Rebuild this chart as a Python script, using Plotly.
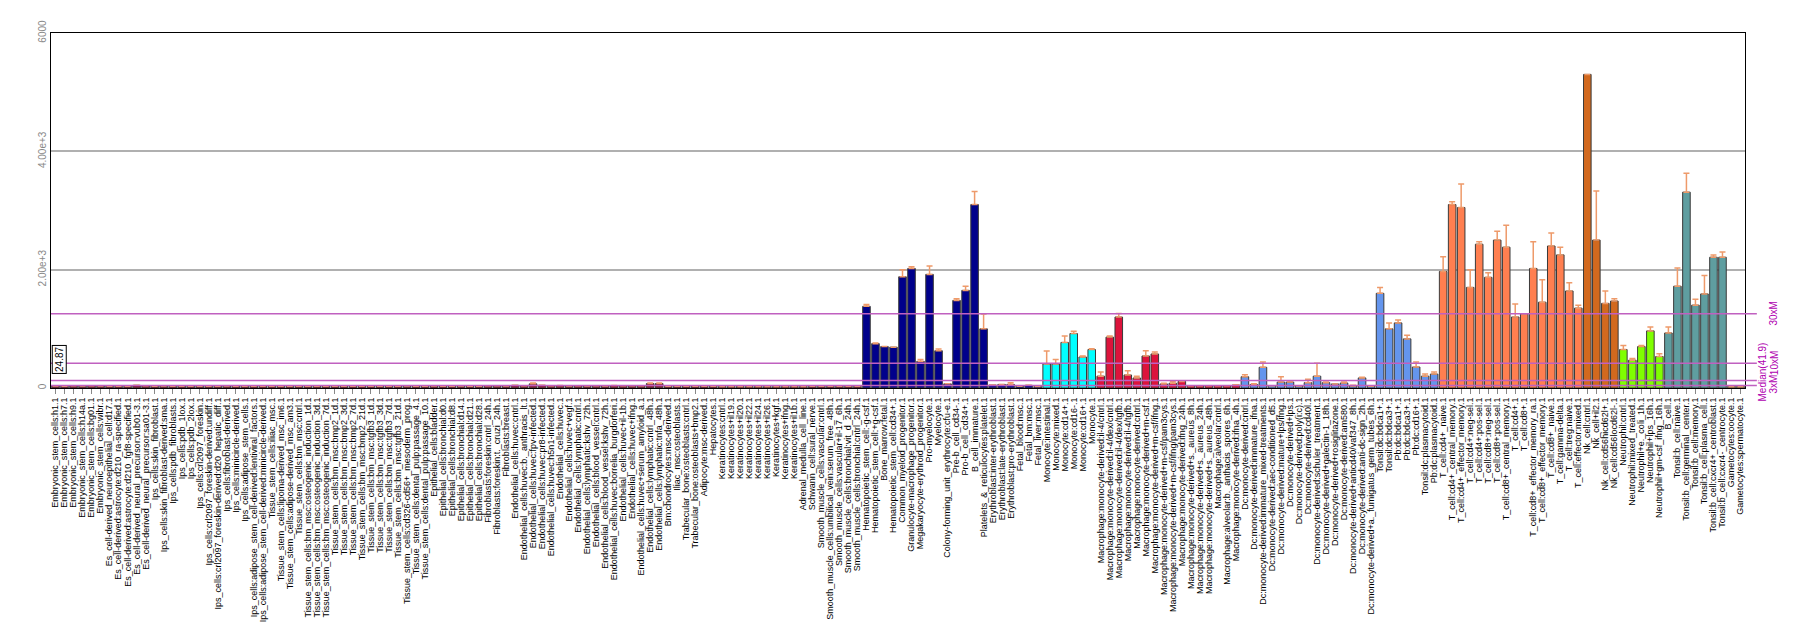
import plotly.graph_objects as go

categories = [
    "Embryonic_stem_cells:h1.1", "Embryonic_stem_cells:h7.1", "Embryonic_stem_cells:h9.1",
    "Embryonic_stem_cells:h14a.1", "Embryonic_stem_cells:bg01.1", "Embryonic_stem_cells:wibr.1",
    "Es_cell-derived_neuroepithelial_cell:d17.1", "Es_cell-derived:astrocyte:d210_ra-specified.1",
    "Es_cell-derived:astrocyte:d210_fgf8-specified.1", "Es_cell-derived_neural_precursor:vub01-3.1",
    "Es_cell-derived_neural_precursor:sa01-3.1", "Ips_cells:skin_fibroblast.1",
    "Ips_cells:skin_fibroblast-derived:sma.1", "Ips_cells:pdb_fibroblasts.1", "Ips_cells:pdb_1lox.1",
    "Ips_cells:pdb_2lox.1", "Ips_cells:crl2097_foreskin.1", "Ips_cells:crl2097_foreskin-derived:undiff.1",
    "Ips_cells:crl2097_foreskin-derived:d20_hepatic_diff.1", "Ips_cells:fibroblast-derived.1",
    "Ips_cells:minicircle-derived.1", "Ips_cells:adipose_stem_cells.1",
    "Ips_cells:adipose_stem_cell-derived:lentiviral_factors.1",
    "Ips_cells:adipose_stem_cell-derived:minicircle-derived.1", "Tissue_stem_cells:iliac_msc.1",
    "Tissue_stem_cells:lipoma-derived_msc_im6.1", "Tissue_stem_cells:adipose-derived_msc_am3.1",
    "Tissue_stem_cells:bm_msc:cntrl.1", "Tissue_stem_cells:bm_msc:osteogenic_induction_1d.1",
    "Tissue_stem_cells:bm_msc:osteogenic_induction_3d.1", "Tissue_stem_cells:bm_msc:osteogenic_induction_7d.1",
    "Tissue_stem_cells:bm_msc:bmp2_1d.1", "Tissue_stem_cells:bm_msc:bmp2_3d.1",
    "Tissue_stem_cells:bm_msc:bmp2_7d.1", "Tissue_stem_cells:bm_msc:bmp2_21d.1",
    "Tissue_stem_cells:bm_msc:tgfb3_1d.1", "Tissue_stem_cells:bm_msc:tgfb3_3d.1",
    "Tissue_stem_cells:bm_msc:tgfb3_7d.1", "Tissue_stem_cells:bm_msc:tgfb3_21d.1",
    "Tissue_stem_cells:cd326-cd56+_mesoderm_prog.1", "Tissue_stem_cells:dental_pulp:passage_4.1",
    "Tissue_stem_cells:dental_pulp:passage_10.1", "Epithelial_cells:bladder.1",
    "Epithelial_cells:bronchial:d0.1", "Epithelial_cells:bronchial:d8.1", "Epithelial_cells:bronchial:d14.1",
    "Epithelial_cells:bronchial:d21.1", "Epithelial_cells:bronchial:d28.1",
    "Fibroblasts:foreskin:cntrl_24h.1", "Fibroblasts:foreskin:t._cruzi_24h.1", "Fibroblasts:breast.1",
    "Endothelial_cells:huvec:cntrl.1", "Endothelial_cells:huvec:b._anthracis_lt.1",
    "Endothelial_cells:huvec:fpv-infected.1", "Endothelial_cells:huvec:pr8-infected.1",
    "Endothelial_cells:huvec:h5n1-infected.1", "Endothelial_cells:huvec.1", "Endothelial_cells:huvec+vegf.1",
    "Endothelial_cells:lymphatic:cntrl.1", "Endothelial_cells:lymphatic:kshv_72h.1",
    "Endothelial_cells:blood_vessel:cntrl.1", "Endothelial_cells:blood_vessel:kshv_72h.1",
    "Endothelial_cells:huvec:borrelia_burgdorferi.1", "Endothelial_cells:huvec+il-1b.1",
    "Endothelial_cells:huvec+ifng.1", "Endothelial_cells:huvec+serum_amyloid_a.1",
    "Endothelial_cells:lymphatic:cntrl_48h.1", "Endothelial_cells:lymphatic:tnfa_48h.1",
    "Bm:chondrocytes:msc-derived.1", "Iliac_msc:osteoblasts.1", "Trabecular_bone:osteoblasts:cntrl.1",
    "Trabecular_bone:osteoblasts+bmp2.1", "Adipocyte:msc-derived.1", "Hepatocytes.1",
    "Keratinocytes:cntrl.1", "Keratinocytes+il19.1", "Keratinocytes+il20.1", "Keratinocytes+il22.1",
    "Keratinocytes+il24.1", "Keratinocytes+il26.1", "Keratinocytes+kgf.1", "Keratinocytes+ifng.1",
    "Keratinocytes+il1b.1", "Adrenal_medulla_cell_line.1", "Schwann_cell:sural_nerve.1",
    "Smooth_muscle_cells:vascular:cntrl.1", "Smooth_muscle_cells:umbilical_vein:serum_free_48h.1",
    "Smooth_muscle_cells:vascular+il-17_6h.1", "Smooth_muscle_cells:bronchial:vit_d_24h.1",
    "Smooth_muscle_cells:bronchial:cntrl_24h.1", "Hematopoietic_stem_cell:-g-csf.1",
    "Hematopoietic_stem_cell:+g-csf.1", "Bone_marrow:fetal.1", "Hematopoietic_stem_cell:cd34+.1",
    "Common_myeloid_progenitor.1", "Granulocyte-macrophage_progenitor.1",
    "Megakaryocyte-erythroid_progenitor.1", "Pro-myelocyte.1", "Myelocyte.1",
    "Colony-forming_unit_erythrocyte:cfu-e.1", "Pre-b_cell_cd34-.1", "Pro-b_cell_cd34+.1",
    "B_cell_immature.1", "Platelets_&_reticulocytes:platelet.1", "Erythroblast:inter-erythroblast.1",
    "Erythroblast:late-erythroblast.1", "Erythroblast:pro-erythroblast.1", "Fetal_blood:msc.1",
    "Fetal_bm:msc.1", "Fetal_liver:msc.1", "Monocyte:intestinal.1", "Monocyte:mixed.1",
    "Monocyte:cd14+.1", "Monocyte:cd16-.1", "Monocyte:cd16+.1", "Monocyte.1",
    "Macrophage:monocyte-derived:il-4/cntrl.1", "Macrophage:monocyte-derived:il-4/dex/cntrl.1",
    "Macrophage:monocyte-derived:il-4/dex/tgfb.1", "Macrophage:monocyte-derived:il-4/tgfb.1",
    "Macrophage:monocyte-derived:cntrl.1", "Macrophage:monocyte-derived+m-csf.1",
    "Macrophage:monocyte-derived+m-csf/ifng.1", "Macrophage:monocyte-derived+m-csf/pam3cys.1",
    "Macrophage:monocyte-derived+m-csf/ifng/pam3cys.1", "Macrophage:monocyte-derived:ifng_24h.1",
    "Macrophage:monocyte-derived+s._aureus_8h.1", "Macrophage:monocyte-derived+s._aureus_24h.1",
    "Macrophage:monocyte-derived+s._aureus_48h.1", "Macrophage:alveolar:cntrl.1",
    "Macrophage:alveolar:b._anthacis_spores_6h.1", "Macrophage:monocyte-derived:ifna_4h.1",
    "Dc:monocyte-derived:cntrl.1", "Dc:monocyte-derived:immature_ifna.1",
    "Dc:monocyte-derived:immature_mixed-treatments.1", "Dc:monocyte-derived:aec-conditioned_d5.1",
    "Dc:monocyte-derived:mature+lps/ifng.1", "Dc:monocyte-derived+lps.1", "Dc:monocyte-derived:poly(i:c).1",
    "Dc:monocyte-derived:cd40l.1", "Dc:monocyte-derived:schuler_treatment.1",
    "Dc:monocyte-derived+galectin-1_18h.1", "Dc:monocyte-derived+rosiglitazone.1",
    "Dc:monocyte-derived:am580.1", "Dc:monocyte-derived+anticd40/vaf347_8h.1",
    "Dc:monocyte-derived:anti-dc-sign_2h.1", "Dc:monocyte-derived+a._fumigatus_germ_tubes_6h.1",
    "Tonsil:dc:bdca1+.1", "Tonsil:dc:bdca3+.1", "Pb:dc:bdca1+.1", "Pb:dc:bdca3+.1", "Pb:dc:cd16+.1",
    "Tonsil:dc:plasmacytoid.1", "Pb:dc:plasmacytoid.1", "T_cell:cd4+_naive.1",
    "T_cell:cd4+_central_memory.1", "T_cell:cd4+_effector_memory.1", "T_cell:cd4+:neg-sel.1",
    "T_cell:cd4+:pos-sel.1", "T_cell:cd8+:neg-sel.1", "T_cell:cd8+:pos-sel.1",
    "T_cell:cd8+_central_memory.1", "T_cell:cd4+.1", "T_cell:cd8+.1", "T_cell:cd8+_effector_memory_ra.1",
    "T_cell:cd8+_effector_memory.1", "T_cell:cd8+_naive.1", "T_cell:gamma-delta.1", "T_cell:treg:naive.1",
    "T_cell:effector:mixed.1", "Nk_cell:cntrl.1", "Nk_cell+il2.1", "Nk_cell:cd56hicd62l+.1",
    "Nk_cell:cd56locd62l-.1", "Neutrophil:cntrl.1", "Neutrophil:mixed_treated.1", "Neutrophil+e._coli_1h.1",
    "Neutrophil+lps_16h.1", "Neutrophil+gm-csf_ifng_16h.1", "B_cell.1", "Tonsil:b_cell:naive.1",
    "Tonsil:b_cell:germinal_center.1", "Tonsil:b_cell:memory.1", "Tonsil:b_cell:plasma_cell.1",
    "Tonsil:b_cell:cxcr4+_centroblast.1", "Tonsil:b_cell:cxcr4-_centrocyte.1", "Gametocytes:oocyte.1",
    "Gametocytes:spermatocyte.1",
]

values = [
    # 1-30
    35, 30, 38, 32, 40, 35, 30, 28, 30, 45, 40, 30, 32, 28, 30, 30, 30, 28, 30, 32,
    30, 28, 30, 30, 28, 30, 28, 30, 28, 30,
    # 31-60
    30, 28, 30, 28, 30, 30, 28, 30, 30, 32, 30, 28, 35, 30, 30, 32, 30, 30, 40, 38,
    35, 45, 40, 70, 45, 40, 42, 35, 40, 35,
    # 61-90
    38, 35, 42, 40, 38, 40, 75, 75, 30, 28, 30, 30, 28, 30, 25, 25, 25, 25, 25, 25,
    25, 25, 25, 25, 28, 28, 28, 28, 28, 28,
    # 91-110
    1380, 750, 700, 690, 1880, 2020, 450, 1920, 630, 70, 1480, 1650, 3100, 1000,
    50, 60, 60, 30, 45, 25,
    # 111-132
    405, 405, 770, 920, 524, 650,
    200, 860, 1200, 220, 169, 541, 575, 68, 80, 110, 40, 40, 40, 40, 40, 50,
    # 133-154
    190, 60, 350, 40, 100, 100, 35, 90, 200, 90, 68, 85, 35, 170, 30,
    1600, 1000, 1100, 830, 355, 200, 235,
    # 155-170
    1970, 3100, 3050, 1700, 2430, 1870, 2500, 2380, 1200, 1250, 2020, 1450, 2400, 2250, 1640, 1350,
    # 171-174
    5300, 2500, 1430, 1470,
    # 175-179
    650, 470, 700, 965, 532,
    # 180-188
    930, 1720, 3310, 1400, 1590, 2210, 2210, 30, 30,
]

errors = [
    # 1-30
    0, 0, 0, 0, 0, 0, 0, 0, 0, 0, 0, 0, 0, 0, 0, 0, 0, 0, 0, 0,
    0, 0, 0, 0, 0, 0, 0, 0, 0, 0,
    # 31-60
    0, 0, 0, 0, 0, 0, 0, 0, 0, 0, 0, 0, 0, 0, 0, 0, 0, 0, 0, 0,
    0, 0, 0, 15, 0, 0, 0, 0, 0, 0,
    # 61-90
    0, 0, 0, 0, 0, 0, 10, 10, 0, 0, 0, 0, 0, 0, 0, 0, 0, 0, 0, 0,
    0, 0, 0, 0, 0, 0, 0, 0, 0, 0,
    # 91-110
    30, 10, 0, 0, 120, 30, 30, 140, 30, 0, 30, 70, 220, 250, 0, 0, 30, 0, 0, 0,
    # 111-132
    220, 75, 110, 40, 16, 15,
    70, 20, 60, 70, 31, 89, 35, 12, 30, 10, 0, 0, 0, 0, 0, 5,
    # 133-154
    35, 10, 90, 0, 90, 10, 0, 60, 220, 10, 0, 15, 10, 10, 0,
    100, 100, 50, 60, 85, 35, 35,
    # 155-170
    250, 50, 400, 300, 40, 80, 150, 370, 220, 0, 450, 380, 220, 130, 140, 50,
    # 171-174
    0, 830, 210, 40,
    # 175-179
    70, 30, 20, 65, 48,
    # 180-188
    100, 310, 320, 100, 310, 40, 90, 0, 0,
]

group_sizes = [90, 20, 6, 16, 22, 16, 4, 5, 7, 2]
group_colors = ["#8B1A3A", "#00008B", "#00FFFF", "#DC143C", "#6495ED", "#FF7F50",
                "#D2691E", "#7FFF00", "#5F9EA0", "#F4A460"]

bar_colors = []
for n, c in zip(group_sizes, group_colors):
    bar_colors += [c] * n

median_value = 41.9
ref_lines = [("Median(41.9)", median_value), ("3xM", 3 * median_value),
             ("10xM", 10 * median_value), ("30xM", 30 * median_value)]

fig = go.Figure()
fig.add_trace(go.Bar(
    x=categories, y=values,
    marker=dict(color=bar_colors, line=dict(color="#3a3a3a", width=1)),
    error_y=dict(type="data", symmetric=False, array=errors, arrayminus=[0] * len(errors),
                 color="#EE9A6A", thickness=1.5, width=3),
    showlegend=False,
))

shapes = []
for name, v in ref_lines:
    shapes.append(dict(type="line", xref="paper", yref="y", x0=0, x1=1.007, y0=v, y1=v,
                       line=dict(color="#C060C0", width=1.5), layer="above"))
fig.update_layout(shapes=shapes)

lab_font = dict(color="#B000B0", size=10, family="Liberation Sans")
annotations = [
    dict(text="30xM", x=1.0171, xref="paper", y=30 * median_value, yref="y", showarrow=False,
         textangle=-90, font=lab_font, xanchor="center", yanchor="middle"),
    dict(text="10xM", x=1.0171, xref="paper", y=10 * median_value, yref="y", showarrow=False,
         textangle=-90, font=lab_font, xanchor="center", yanchor="middle"),
    dict(text="3xM", x=1.0171, xref="paper", y=3 * median_value, yref="y", showarrow=False,
         textangle=-90, font=lab_font, xanchor="center", yanchor="middle", yshift=-3),
    dict(text="Median(41.9)", x=1.0106, xref="paper", y=median_value, yref="y", showarrow=False,
         textangle=-90, font=lab_font, xanchor="center", yanchor="middle", yshift=14),
    dict(text="24.87", x=0.0005, xref="paper", y=480, yref="y", showarrow=False, textangle=-90,
         font=dict(color="black", size=10, family="Liberation Sans"), xanchor="left",
         bordercolor="black", borderwidth=1, borderpad=1, bgcolor="white"),
]
fig.update_layout(annotations=annotations)

fig.update_layout(
    width=1798, height=637,
    margin=dict(l=43, r=61, t=25, b=257, autoexpand=False),
    plot_bgcolor="white", paper_bgcolor="white",
    bargap=0.16,
    font=dict(family="Liberation Sans", color="black"),
    xaxis=dict(
        type="category", tickmode="array", tickvals=categories, ticktext=categories,
        tickangle=-90, tickfont=dict(size=9, color="black"),
        showline=True, linecolor="black", linewidth=1, mirror=True,
        ticks="outside", ticklen=5, tickcolor="#888888", automargin=False,
        range=[-0.5, len(categories) - 0.5],
    ),
    yaxis=dict(
        range=[0, 6000], tickvals=[0, 2000, 4000, 6000],
        ticktext=["0", "2.00e+3", "4.00e+3", "6000"], tickangle=-90,
        tickfont=dict(size=10, color="#888888"),
        showgrid=True, gridcolor="#B0B0B0", gridwidth=1.5,
        showline=True, linecolor="black", linewidth=1, mirror=True,
        zeroline=False, automargin=False, ticks="",
    ),
)

fig.write_html("out.html")
